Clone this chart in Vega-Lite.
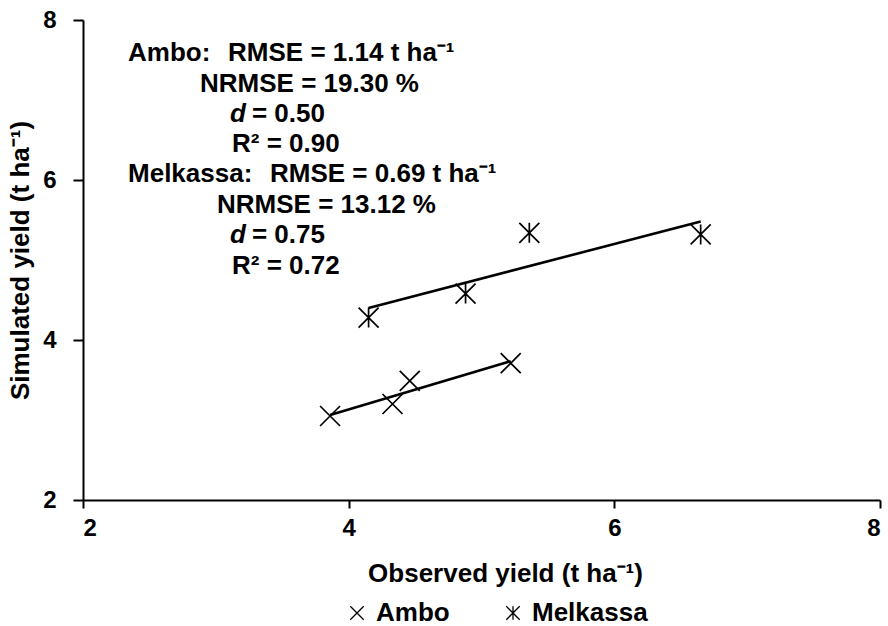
{
  "$schema": "https://vega.github.io/schema/vega-lite/v6.json",
  "width": 797,
  "height": 480,
  "autosize": "none",
  "padding": {"left": 83, "top": 20, "right": 8, "bottom": 126},
  "background": "white",
  "config": {
    "view": {"stroke": null},
    "font": "Liberation Sans",
    "axis": {
      "domainColor": "black", "domainWidth": 2,
      "tickColor": "black", "tickWidth": 2, "tickSize": 9,
      "labelFont": "Liberation Sans", "labelFontWeight": "bold", "labelFontSize": 24, "labelColor": "black",
      "titleFont": "Liberation Sans", "titleFontWeight": "bold", "titleFontSize": 26, "titleColor": "black",
      "grid": false
    }
  },
  "datasets": {
    "obs": [
      {"site": "Ambo", "observed": 3.86, "simulated": 3.05},
      {"site": "Ambo", "observed": 4.33, "simulated": 3.2},
      {"site": "Ambo", "observed": 4.46, "simulated": 3.49},
      {"site": "Ambo", "observed": 5.22, "simulated": 3.71},
      {"site": "Melkassa", "observed": 4.15, "simulated": 4.28},
      {"site": "Melkassa", "observed": 4.88, "simulated": 4.58},
      {"site": "Melkassa", "observed": 5.36, "simulated": 5.34},
      {"site": "Melkassa", "observed": 6.65, "simulated": 5.32}
    ],
    "notes": [
      {"t": "Ambo:", "x": 2.339, "y": 7.4875, "style": "normal"},
      {"t": "RMSE = 1.14 t ha⁻¹", "x": 3.092, "y": 7.4875, "style": "normal"},
      {"t": "NRMSE = 19.30 %", "x": 2.881, "y": 7.1, "style": "normal"},
      {"t": "d", "x": 3.107, "y": 6.725, "style": "italic"},
      {"t": "= 0.50", "x": 3.272, "y": 6.725, "style": "normal"},
      {"t": "R² = 0.90", "x": 3.122, "y": 6.35, "style": "normal"},
      {"t": "Melkassa:", "x": 2.339, "y": 5.975, "style": "normal"},
      {"t": "RMSE = 0.69 t ha⁻¹", "x": 3.408, "y": 5.975, "style": "normal"},
      {"t": "NRMSE = 13.12 %", "x": 3.009, "y": 5.5875, "style": "normal"},
      {"t": "d", "x": 3.107, "y": 5.2125, "style": "italic"},
      {"t": "= 0.75", "x": 3.272, "y": 5.2125, "style": "normal"},
      {"t": "R² = 0.72", "x": 3.122, "y": 4.825, "style": "normal"}
    ]
  },
  "layer": [
    {
      "data": {"name": "obs"},
      "mark": {"type": "point", "filled": false, "strokeWidth": 1.7, "size": 400, "color": "black", "opacity": 1},
      "encoding": {
        "x": {"field": "observed", "type": "quantitative", "scale": {"domain": [2, 8], "nice": false, "zero": false},
              "axis": {"values": [2, 4, 6, 8], "format": "d", "tickSize": 8, "labelFontSize": 24, "labelFontWeight": "bold", "labelFont": "Liberation Sans", "title": "Observed yield (t ha⁻¹)", "labelPadding": 8, "titlePadding": 20, "titleX": 422, "titleAlign": "center"}},
        "y": {"field": "simulated", "type": "quantitative", "scale": {"domain": [2, 8], "nice": false, "zero": false},
              "axis": {"values": [2, 4, 6, 8], "format": "d", "tickSize": 10, "labelFontSize": 24, "labelFontWeight": "bold", "labelFont": "Liberation Sans", "title": "Simulated yield (t ha⁻¹)", "labelPadding": 17, "titlePadding": 9}},
        "shape": {"field": "site", "type": "nominal",
                  "scale": {"domain": ["Ambo", "Melkassa"], "range": ["M-1,-1L1,1M-1,1L1,-1", "M-1,-1L1,1M-1,1L1,-1M0,-1L0,1"]},
                  "legend": {"orient": "none", "legendX": 261, "legendY": 580, "direction": "horizontal", "title": null,
                             "labelFontSize": 26, "labelFontWeight": "bold", "labelFont": "Liberation Sans", "labelColor": "black",
                             "symbolSize": 180, "symbolStrokeColor": "black", "symbolStrokeWidth": 1.3, "symbolOpacity": 1,
                             "columnPadding": 50, "labelOffset": 6}}
      }
    },
    {
      "data": {"name": "obs"},
      "transform": [{"regression": "simulated", "on": "observed", "groupby": ["site"]}],
      "mark": {"type": "line", "color": "black", "strokeWidth": 2.6},
      "encoding": {
        "x": {"field": "observed", "type": "quantitative"},
        "y": {"field": "simulated", "type": "quantitative"},
        "detail": {"field": "site"}
      }
    },
    {
      "data": {"name": "notes"},
      "transform": [{"filter": "datum.style === 'normal'"}],
      "mark": {"type": "text", "align": "left", "baseline": "alphabetic", "fontSize": 26, "fontWeight": "bold", "color": "black", "font": "Liberation Sans"},
      "encoding": {
        "x": {"field": "x", "type": "quantitative"},
        "y": {"field": "y", "type": "quantitative"},
        "text": {"field": "t"}
      }
    },
    {
      "data": {"name": "notes"},
      "transform": [{"filter": "datum.style === 'italic'"}],
      "mark": {"type": "text", "align": "left", "baseline": "alphabetic", "fontSize": 26, "fontWeight": "bold", "fontStyle": "italic", "color": "black", "font": "Liberation Sans"},
      "encoding": {
        "x": {"field": "x", "type": "quantitative"},
        "y": {"field": "y", "type": "quantitative"},
        "text": {"field": "t"}
      }
    }
  ]
}
